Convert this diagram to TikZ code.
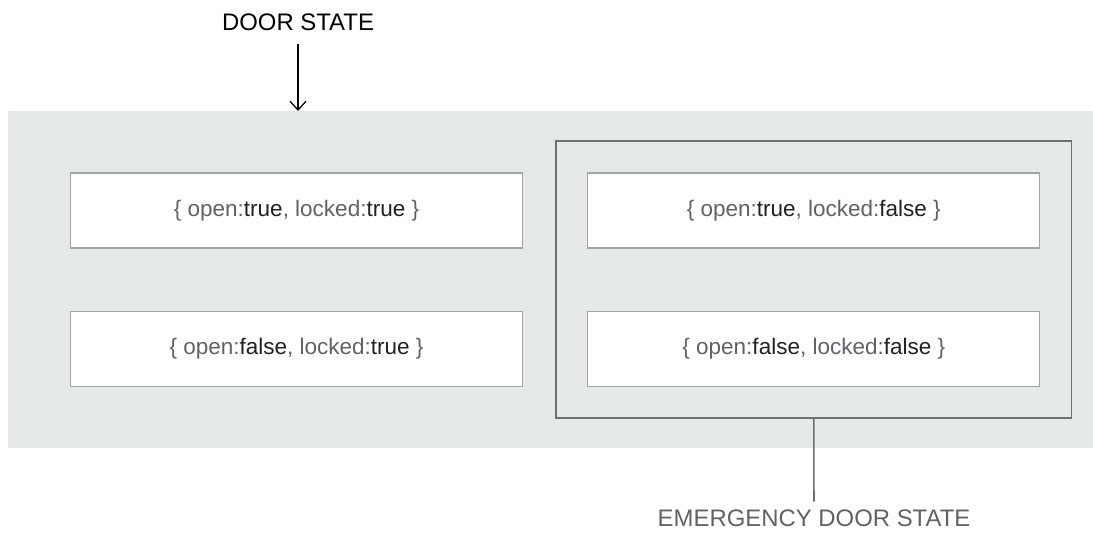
\documentclass[tikz,border=0pt]{standalone}
\usepackage{fontspec}
\setmainfont{Liberation Sans}
\usetikzlibrary{arrows.meta,positioning,fit,backgrounds}
\definecolor{hatter}{HTML}{E6E9EA}
\definecolor{kulcs}{HTML}{5F6368}
\definecolor{ertek}{HTML}{202124}
\definecolor{keret}{HTML}{A2A4A6}
\definecolor{vonal}{HTML}{6E7073}
\tikzset{
  allapot/.style={draw=keret,line width=0.8pt,fill=white,inner sep=0pt,minimum width=11.3cm,
                  minimum height=1.875cm,text=kulcs,font=\fontsize{16}{19}\selectfont},
  vesz/.style={draw=vonal,line width=1.2pt,inner sep=0.78cm},
  cim/.style={inner sep=2pt,font=\fontsize{17}{20}\selectfont},
  nyil/.style={-{Straight Barb[length=2.2mm,width=4mm]},line width=0.9pt},
  vnyil/.style={draw=vonal,line width=1.1pt},
}
\newcommand{\ert}[1]{\textcolor{ertek}{#1}}

\begin{document}
\begin{tikzpicture}[x=0.025cm,y=-0.025cm]
  \useasboundingbox (0,0) rectangle (1093,533);
  \fill[hatter] (8,111) rectangle (1093,448);
  \coordinate (teto) at (298,111);
  \node[allapot] (a) at (296.5,210.5) {\{ open:\ert{true}, locked:\ert{true} \}};
  \node[allapot,right=1.6cm of a] (b) {\{ open:\ert{true}, locked:\ert{false} \}};
  \node[allapot,below=1.55cm of a] (c) {\{ open:\ert{false}, locked:\ert{true} \}};
  \node[allapot,below=1.55cm of b] (d) {\{ open:\ert{false}, locked:\ert{false} \}};
  \node[vesz,fit=(b)(d)] (v) {};
  \node[cim] (ds) at (298,22) {DOOR STATE};
  \node[cim,text=kulcs] (eds) at (814,518) {EMERGENCY DOOR STATE};
  \draw[nyil] ([yshift=-0.25cm]ds.south) -- (teto);
  \draw[vnyil] (v.south) -- ([yshift=0.12cm]eds.north);
\end{tikzpicture}
\end{document}
